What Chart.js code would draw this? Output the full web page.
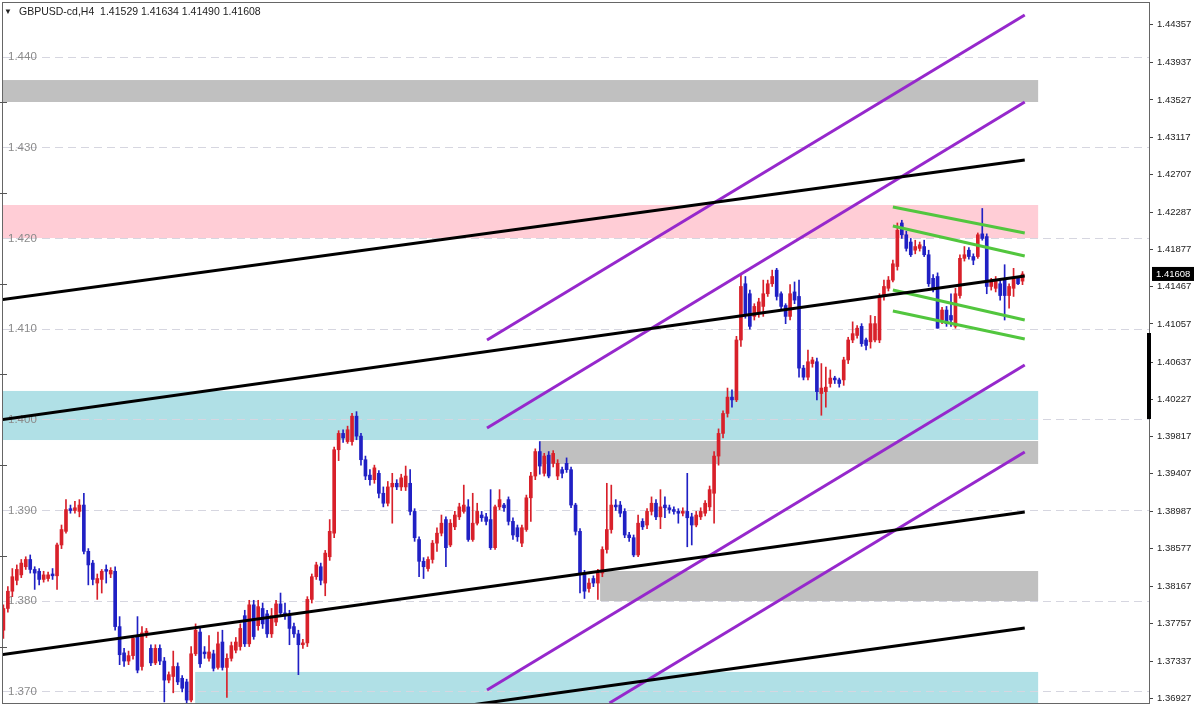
<!DOCTYPE html>
<html>
<head>
<meta charset="utf-8">
<script src="https://cdn.jsdelivr.net/npm/chart.js@4"></script>
<style>
  html, body { margin: 0; padding: 0; background: #fff; }
  canvas { display: block; }
</style>
</head>
<body>
<canvas id="chart" width="1200" height="706"></canvas>
<script>
// GBPUSD H4 bars, one row per candle: [open, high, low, close]
const candles = [
  [1.3768,1.3796,1.3759,1.3792],[1.3792,1.3816,1.3788,1.3811],[1.3811,1.3836,1.3805,1.3827],[1.3823,1.3840,1.3818,1.3835],
  [1.3829,1.3846,1.3826,1.3842],[1.3838,1.3849,1.3835,1.3846],[1.3846,1.3851,1.3831,1.3835],[1.3835,1.3838,1.3813,1.3831],
  [1.3833,1.3836,1.3818,1.3824],[1.3824,1.3833,1.3821,1.3829],[1.3825,1.3832,1.3822,1.3829],[1.3830,1.3836,1.3824,1.3828],
  [1.3828,1.3864,1.3813,1.3862],[1.3862,1.3884,1.3858,1.3879],[1.3877,1.3912,1.3875,1.3901],[1.3902,1.3906,1.3897,1.3900],
  [1.3900,1.3910,1.3897,1.3903],[1.3899,1.3912,1.3893,1.3906],[1.3906,1.3919,1.3852,1.3855],[1.3855,1.3858,1.3818,1.3840],
  [1.3842,1.3845,1.3818,1.3824],[1.3820,1.3830,1.3802,1.3825],[1.3824,1.3835,1.3809,1.3833],[1.3835,1.3840,1.3820,1.3833],
  [1.3830,1.3837,1.3826,1.3834],[1.3833,1.3838,1.3768,1.3772],[1.3772,1.3783,1.3730,1.3741],[1.3743,1.3748,1.3728,1.3734],
  [1.3734,1.3745,1.3730,1.3740],[1.3740,1.3761,1.3736,1.3759],[1.3761,1.3783,1.3721,1.3724],[1.3728,1.3772,1.3724,1.3765],
  [1.3763,1.3770,1.3760,1.3767],[1.3748,1.3752,1.3729,1.3732],[1.3732,1.3752,1.3730,1.3748],[1.3748,1.3752,1.3730,1.3734],
  [1.3734,1.3738,1.3689,1.3713],[1.3713,1.3722,1.3710,1.3719],[1.3717,1.3745,1.3699,1.3728],[1.3728,1.3732,1.3708,1.3711],
  [1.3715,1.3718,1.3700,1.3704],[1.3711,1.3714,1.3688,1.3691],[1.3691,1.3750,1.3689,1.3742],[1.3742,1.3775,1.3740,1.3768],
  [1.3766,1.3770,1.3727,1.3731],[1.3744,1.3750,1.3737,1.3742],[1.3737,1.3762,1.3734,1.3744],[1.3742,1.3746,1.3723,1.3726],
  [1.3727,1.3766,1.3725,1.3753],[1.3755,1.3768,1.3724,1.3727],[1.3727,1.3742,1.3694,1.3737],[1.3737,1.3755,1.3734,1.3751],
  [1.3746,1.3760,1.3743,1.3755],[1.3750,1.3775,1.3746,1.3770],[1.3784,1.3790,1.3750,1.3753],[1.3753,1.3801,1.3750,1.3796],
  [1.3796,1.3801,1.3758,1.3761],[1.3773,1.3801,1.3768,1.3794],[1.3792,1.3798,1.3770,1.3775],[1.3786,1.3790,1.3760,1.3764],
  [1.3764,1.3792,1.3760,1.3784],[1.3777,1.3801,1.3773,1.3797],[1.3797,1.3809,1.3783,1.3787],[1.3787,1.3798,1.3780,1.3784],
  [1.3784,1.3790,1.3752,1.3770],[1.3772,1.3776,1.3760,1.3764],[1.3764,1.3768,1.3719,1.3752],[1.3752,1.3758,1.3748,1.3754],
  [1.3754,1.3805,1.3750,1.3802],[1.3802,1.3830,1.3798,1.3827],[1.3827,1.3843,1.3824,1.3840],[1.3838,1.3842,1.3818,1.3823],
  [1.3820,1.3856,1.3806,1.3853],[1.3849,1.3890,1.3845,1.3877],[1.3875,1.3970,1.3870,1.3967],[1.3967,1.3988,1.3955,1.3985],
  [1.3985,1.3989,1.3975,1.3980],[1.3976,1.3993,1.3974,1.3989],[1.3976,1.4007,1.3972,1.4004],[1.4004,1.4009,1.3978,1.3982],
  [1.3982,1.3985,1.3950,1.3956],[1.3956,1.3960,1.3934,1.3938],[1.3939,1.3945,1.3928,1.3934],[1.3934,1.3950,1.3930,1.3947],
  [1.3941,1.3944,1.3914,1.3919],[1.3919,1.3926,1.3904,1.3908],[1.3908,1.3932,1.3905,1.3926],[1.3926,1.3941,1.3886,1.3930],
  [1.3930,1.3934,1.3923,1.3926],[1.3926,1.3940,1.3922,1.3936],[1.3926,1.3949,1.3922,1.3938],[1.3930,1.3945,1.3895,1.3899],
  [1.3899,1.3902,1.3866,1.3870],[1.3868,1.3871,1.3827,1.3844],[1.3844,1.3848,1.3825,1.3838],[1.3836,1.3849,1.3833,1.3846],
  [1.3846,1.3867,1.3842,1.3864],[1.3864,1.3881,1.3855,1.3875],[1.3875,1.3895,1.3872,1.3886],[1.3890,1.3893,1.3838,1.3859],
  [1.3862,1.3890,1.3860,1.3886],[1.3882,1.3899,1.3879,1.3895],[1.3893,1.3908,1.3890,1.3904],[1.3899,1.3928,1.3897,1.3906],
  [1.3904,1.3912,1.3866,1.3868],[1.3868,1.3919,1.3866,1.3886],[1.3886,1.3908,1.3884,1.3899],[1.3895,1.3899,1.3888,1.3892],
  [1.3893,1.3897,1.3884,1.3888],[1.3890,1.3923,1.3857,1.3859],[1.3859,1.3906,1.3857,1.3904],[1.3904,1.3923,1.3901,1.3912],
  [1.3906,1.3908,1.3899,1.3903],[1.3912,1.3915,1.3884,1.3888],[1.3888,1.3892,1.3868,1.3873],[1.3881,1.3884,1.3866,1.3871],
  [1.3864,1.3884,1.3860,1.3881],[1.3879,1.3917,1.3877,1.3914],[1.3914,1.3942,1.3888,1.3938],[1.3938,1.3968,1.3934,1.3965],
  [1.3965,1.3976,1.3940,1.3949],[1.3941,1.3963,1.3938,1.3960],[1.3961,1.3965,1.3936,1.3938],[1.3952,1.3966,1.3948,1.3963],
  [1.3938,1.3956,1.3934,1.3952],[1.3945,1.3948,1.3936,1.3941],[1.3952,1.3958,1.3942,1.3945],[1.3945,1.3948,1.3903,1.3906],
  [1.3906,1.3908,1.3873,1.3877],[1.3877,1.3880,1.3809,1.3831],[1.3831,1.3834,1.3803,1.3811],[1.3814,1.3825,1.3810,1.3820],
  [1.3825,1.3828,1.3816,1.3820],[1.3820,1.3835,1.3802,1.3831],[1.3831,1.3860,1.3827,1.3857],[1.3857,1.3930,1.3853,1.3879],
  [1.3879,1.3928,1.3875,1.3906],[1.3906,1.3912,1.3900,1.3904],[1.3906,1.3910,1.3893,1.3897],[1.3899,1.3902,1.3870,1.3873],
  [1.3873,1.3876,1.3866,1.3870],[1.3870,1.3873,1.3849,1.3851],[1.3851,1.3895,1.3849,1.3886],[1.3888,1.3891,1.3879,1.3882],
  [1.3884,1.3902,1.3880,1.3899],[1.3899,1.3915,1.3895,1.3908],[1.3908,1.3912,1.3890,1.3893],[1.3893,1.3923,1.3880,1.3904],
  [1.3906,1.3915,1.3892,1.3903],[1.3903,1.3906,1.3897,1.3901],[1.3901,1.3904,1.3896,1.3899],[1.3899,1.3902,1.3886,1.3897],
  [1.3897,1.3903,1.3894,1.3899],[1.3899,1.3941,1.3860,1.3892],[1.3893,1.3897,1.3862,1.3884],[1.3884,1.3899,1.3882,1.3895],
  [1.3893,1.3903,1.3890,1.3899],[1.3897,1.3911,1.3894,1.3908],[1.3904,1.3927,1.3900,1.3923],[1.3919,1.3965,1.3886,1.3960],
  [1.3960,1.3990,1.3950,1.3985],[1.3985,1.4010,1.3980,1.4007],[1.4007,1.4035,1.4003,1.4025],[1.4025,1.4033,1.4014,1.4022],
  [1.4022,1.4092,1.4020,1.4088],[1.4088,1.4161,1.4081,1.4147],[1.4150,1.4158,1.4112,1.4117],[1.4139,1.4143,1.4100,1.4103],
  [1.4114,1.4128,1.4110,1.4125],[1.4117,1.4134,1.4113,1.4130],[1.4125,1.4154,1.4114,1.4139],[1.4139,1.4154,1.4136,1.4150],
  [1.4150,1.4165,1.4147,1.4158],[1.4165,1.4167,1.4132,1.4136],[1.4139,1.4141,1.4121,1.4125],[1.4126,1.4128,1.4106,1.4114],
  [1.4114,1.4149,1.4110,1.4139],[1.4141,1.4152,1.4128,1.4132],[1.4136,1.4154,1.4047,1.4057],[1.4057,1.4060,1.4044,1.4047],
  [1.4047,1.4077,1.4044,1.4064],[1.4062,1.4069,1.4058,1.4066],[1.4064,1.4068,1.4022,1.4031],[1.4029,1.4062,1.4005,1.4035],
  [1.4031,1.4058,1.4014,1.4036],[1.4040,1.4055,1.4036,1.4046],[1.4046,1.4048,1.4040,1.4044],[1.4044,1.4046,1.4036,1.4040],
  [1.4044,1.4069,1.4038,1.4066],[1.4066,1.4091,1.4062,1.4088],[1.4088,1.4108,1.4085,1.4095],[1.4093,1.4104,1.4090,1.4101],
  [1.4103,1.4106,1.4081,1.4084],[1.4088,1.4090,1.4077,1.4082],[1.4086,1.4115,1.4079,1.4106],[1.4088,1.4114,1.4086,1.4106],
  [1.4088,1.4139,1.4085,1.4136],[1.4136,1.4154,1.4132,1.4147],[1.4145,1.4158,1.4142,1.4154],[1.4154,1.4176,1.4152,1.4172],
  [1.4169,1.4217,1.4165,1.4209],[1.4217,1.4220,1.4200,1.4204],[1.4204,1.4208,1.4186,1.4189],[1.4196,1.4200,1.4180,1.4182],
  [1.4187,1.4198,1.4183,1.4191],[1.4189,1.4196,1.4186,1.4193],[1.4191,1.4198,1.4180,1.4182],[1.4182,1.4187,1.4147,1.4150],
  [1.4156,1.4160,1.4141,1.4145],[1.4158,1.4162,1.4101,1.4101],[1.4110,1.4124,1.4106,1.4121],[1.4121,1.4125,1.4103,1.4106],
  [1.4115,1.4139,1.4103,1.4110],[1.4103,1.4145,1.4101,1.4139],[1.4137,1.4182,1.4134,1.4178],[1.4178,1.4191,1.4175,1.4182],
  [1.4187,1.4190,1.4177,1.4180],[1.4180,1.4183,1.4171,1.4176],[1.4180,1.4206,1.4178,1.4204],[1.4205,1.4233,1.4198,1.4200],
  [1.4202,1.4205,1.4139,1.4147],[1.4147,1.4156,1.4143,1.4152],[1.4145,1.4158,1.4141,1.4154],[1.4150,1.4154,1.4132,1.4137],
  [1.4154,1.4171,1.4110,1.4137],[1.4137,1.4150,1.4123,1.4147],[1.4145,1.4167,1.4136,1.4156],[1.4156,1.4158,1.4149,1.4150],
  [1.41529,1.41634,1.41490,1.41608]
];

const symbol = 'GBPUSD-cd,H4';
const rightTicks = [1.44357, 1.43937, 1.43527, 1.43117, 1.42707, 1.42287, 1.41877, 1.41467, 1.41057, 1.40637,
  1.40227, 1.39817, 1.39407, 1.38987, 1.38577, 1.38167, 1.37757, 1.37337, 1.36927];
const leftLabels = [1.370, 1.380, 1.390, 1.400, 1.410, 1.420, 1.430, 1.440];
const leftMarks = [1.375, 1.385, 1.395, 1.405, 1.415, 1.425, 1.435];

// trend lines: [[bar, price], [bar, price]]
const blackLines = [
  [[-0.8, 1.41321], [228.5, 1.42864]],
  [[-0.8, 1.39998], [228.5, 1.41585]],
  [[-0.8, 1.37407], [228.5, 1.38983]],
  [[104.4, 1.36854], [228.5, 1.37704]]
];
const purpleLines = [
  [[108.2, 1.40880], [228.5, 1.44463]],
  [[108.2, 1.39910], [228.5, 1.43504]],
  [[108.2, 1.37021], [228.5, 1.40604]],
  [[135.6, 1.36878], [228.5, 1.39645]]
];
const greenLines = [
  [[199.0, 1.42346], [228.5, 1.42060]],
  [[199.0, 1.42137], [228.5, 1.41806]],
  [[199.0, 1.41431], [228.5, 1.41100]],
  [[199.0, 1.41200], [228.5, 1.40891]]
];

// zones: [fromBar, toBar, lowPrice, highPrice]
const silverZones = [[-1, 231.5, 1.43504, 1.43746], [120.0, 231.5, 1.39513, 1.39766], [133.5, 231.5, 1.38002, 1.38333]];
const pinkZones = [[-1, 231.5, 1.42004, 1.42368]];
const powderZones = [[-1, 231.5, 1.39777, 1.40318], [42.9, 231.5, 1.36500, 1.37220]];

// the black marker on the price axis
const axisMarker = [1.40009, 1.40957];

const yMin = 1.368776, yMax = 1.445954;
const xMin = -0.09, xMax = 256.3;
const FONT = '"Liberation Sans", Arial, sans-serif';
const BULL = '#d8202a', BEAR = '#2020c4';

const last = candles[candles.length - 1];
const candleColors = candles.map(c => c[3] >= c[0] ? BULL : BEAR);

function lineSets(lines, color) {
  return lines.map(l => ({
    type: 'line',
    data: l.map(p => ({ x: p[0], y: p[1] })),
    borderColor: color,
    borderWidth: 3,
    pointRadius: 0,
    fill: false,
    tension: 0,
    clip: 0,
    order: 1
  }));
}

const isLabel = v => leftLabels.some(l => Math.abs(l - v) < 1e-7);

const overlays = {
  id: 'overlays',
  beforeDraw(chart) {
    const { ctx, chartArea: a, scales: { x, y } } = chart;
    ctx.save();
    ctx.fillStyle = '#fff';
    ctx.fillRect(0, 0, chart.width, chart.height);
    ctx.beginPath();
    ctx.rect(a.left, a.top, a.right - a.left, a.bottom - a.top);
    ctx.clip();
    const fillZones = (zones, color) => {
      ctx.fillStyle = color;
      zones.forEach(([b0, b1, lo, hi]) => {
        const x0 = x.getPixelForValue(b0), x1 = x.getPixelForValue(b1);
        const y0 = y.getPixelForValue(hi), y1 = y.getPixelForValue(lo);
        ctx.fillRect(x0, y0, x1 - x0, y1 - y0);
      });
    };
    fillZones(silverZones, '#c0c0c0');
    fillZones(pinkZones, '#ffcdd6');
    fillZones(powderZones, '#b0e0e6');
    ctx.restore();
  },
  afterDraw(chart) {
    const { ctx, chartArea: a, scales: { y, yL } } = chart;
    ctx.save();
    // frame
    ctx.strokeStyle = '#666';
    ctx.lineWidth = 1;
    ctx.strokeRect(a.left - 0.5, a.top - 0.5, a.right - a.left + 1, a.bottom - a.top + 1);
    // small ticks on the left edge
    ctx.strokeStyle = '#555';
    leftMarks.forEach(v => {
      const py = Math.round(yL.getPixelForValue(v)) + 0.5;
      ctx.beginPath(); ctx.moveTo(a.left - 3, py); ctx.lineTo(a.left + 4, py); ctx.stroke();
    });
    // axis marker
    ctx.fillStyle = '#000';
    const m0 = y.getPixelForValue(axisMarker[1]), m1 = y.getPixelForValue(axisMarker[0]);
    ctx.fillRect(a.right - 2, m0, 4, m1 - m0);
    // current price box
    const py = y.getPixelForValue(last[3]);
    ctx.fillStyle = '#000';
    ctx.fillRect(a.right + 3, py - 7, 42, 14);
    ctx.fillStyle = '#fff';
    ctx.font = '9.5px ' + FONT;
    ctx.textBaseline = 'middle';
    ctx.textAlign = 'left';
    ctx.fillText(last[3].toFixed(5), a.right + 7, py);
    // title
    ctx.fillStyle = '#222';
    ctx.font = '8px ' + FONT;
    ctx.fillText('\u25BC', 4, 12);
    ctx.font = '10.5px ' + FONT;
    const vals = [last[0], last[1], last[2], last[3]].map(v => v.toFixed(5)).join(' ');
    ctx.fillText(symbol + '  ' + vals, 19, 12);
    ctx.restore();
  }
};

new Chart(document.getElementById('chart'), {
  type: 'bar',
  data: {
    datasets: [
      {
        data: candles.map((c, i) => ({ x: i, y: [c[2], c[1]] })),
        backgroundColor: candleColors,
        barThickness: 1,
        grouped: false,
        order: 3
      },
      {
        data: candles.map((c, i) => ({ x: i, y: [c[0], c[3]] })),
        backgroundColor: candleColors,
        barThickness: 3,
        minBarLength: 1,
        grouped: false,
        order: 2
      },
      ...lineSets(blackLines, '#000000'),
      ...lineSets(purpleLines, '#9628cc'),
      ...lineSets(greenLines, '#52c63e')
    ]
  },
  options: {
    responsive: false,
    animation: false,
    devicePixelRatio: 1,
    events: [],
    layout: { padding: { left: 3, top: 3, right: 0, bottom: 3 } },
    plugins: { legend: { display: false }, tooltip: { enabled: false } },
    scales: {
      x: {
        type: 'linear', min: xMin, max: xMax, offset: false, display: false
      },
      y: {
        type: 'linear', position: 'right', min: yMin, max: yMax,
        afterBuildTicks: s => { s.ticks = rightTicks.map(v => ({ value: v })); },
        afterFit: s => { s.width = 51; s.paddingTop = 0; s.paddingBottom = 0; },
        ticks: {
          autoSkip: false, padding: 4, color: '#222',
          font: { family: FONT, size: 9.5 },
          callback: v => v.toFixed(5)
        },
        grid: { drawOnChartArea: false, drawTicks: true, tickLength: 4, tickColor: '#444' },
        border: { display: true, color: '#666' }
      },
      yL: {
        type: 'linear', position: 'left', min: yMin, max: yMax,
        afterBuildTicks: s => { s.ticks = leftLabels.concat(leftMarks).sort().map(v => ({ value: v })); },
        afterFit: s => { s.width = 0; s.paddingTop = 0; s.paddingBottom = 0; },
        ticks: {
          mirror: true, autoSkip: false, padding: 5, color: '#8a8a8a',
          font: { family: FONT, size: 11.5 },
          callback: v => isLabel(v) ? v.toFixed(3) : ''
        },
        grid: {
          drawTicks: false,
          color: c => (c.tick && isLabel(c.tick.value)) ? '#d6d6e0' : 'rgba(0,0,0,0)'
        },
        border: { display: false, dash: [8, 5] }
      }
    }
  },
  plugins: [overlays]
});
</script>
</body>
</html>
